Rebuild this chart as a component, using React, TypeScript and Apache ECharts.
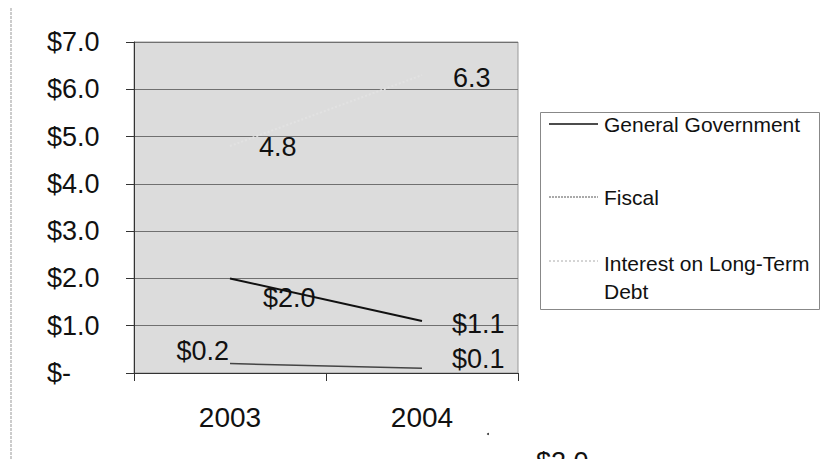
import React, { useEffect, useRef } from "react";
import * as echarts from "echarts";

const categories = ["2003", "2004"];
const generalGovernment = [2.0, 1.1];
const fiscal = [0.2, 0.1];
const interestLongTerm = [4.8, 6.3];
const yTicks = [0, 1, 2, 3, 4, 5, 6, 7];
const legendNames = ["General Government", "Fiscal", "Interest on Long-Term\nDebt"];
const strayLabel = "$2.0";

const FONT = "'Liberation Sans', Arial, sans-serif";

function fmtDollar(v: number) {
  return v === 0 ? "$-" : "$" + v.toFixed(1);
}

export default function App() {
  const ref = useRef<HTMLDivElement>(null);
  useEffect(() => {
    if (!ref.current) return;
    const chart = echarts.init(ref.current, undefined, { renderer: "svg" });

    const mkLabel = (dx: number, dy: number, align: string, text: string) => ({
      show: true,
      position: [dx, dy],
      align,
      verticalAlign: "middle",
      fontSize: 27,
      fontFamily: FONT,
      color: "#111",
      formatter: () => text,
    });

    const ggLabels = [mkLabel(33, 20, "left", "$" + generalGovernment[0].toFixed(1)), mkLabel(30, 3, "left", "$" + generalGovernment[1].toFixed(1))];
    const fiscalLabels = [mkLabel(-1, -12, "right", "$" + fiscal[0].toFixed(1)), mkLabel(30, -9, "left", "$" + fiscal[1].toFixed(1))];
    const intLabels = [mkLabel(29, 1, "left", interestLongTerm[0].toFixed(1)), mkLabel(31, 3, "left", interestLongTerm[1].toFixed(1))];

    const buildData = (vals: number[], labels: any[]) =>
      vals.map((v, i) => ({ value: v, label: labels[i] }));

    const baseSeries = {
      type: "line",
      symbol: "circle",
      symbolSize: 0.1,
      itemStyle: { color: "rgba(0,0,0,0)" },
      emphasis: { disabled: true },
      z: 3,
    };

    const lx1 = 549, lx2 = 598, tx = 604;
    const legendY = [124, 197, 261];

    chart.setOption({
      animation: false,
      grid: {
        left: 134,
        right: 305,
        top: 42,
        bottom: 86,
        show: true,
        backgroundColor: "#dcdcdc",
        borderColor: "#999",
        borderWidth: 1,
      },
      xAxis: {
        type: "category",
        data: categories,
        boundaryGap: true,
        axisLine: { lineStyle: { color: "#333", width: 1 } },
        axisTick: { show: true, length: 8, lineStyle: { color: "#333" } },
        axisLabel: { fontSize: 28, fontFamily: FONT, color: "#111", margin: 30 },
        splitLine: { show: false },
      },
      yAxis: {
        type: "value",
        min: yTicks[0],
        max: yTicks[yTicks.length - 1],
        interval: 1,
        axisLine: { show: true, lineStyle: { color: "#333", width: 1 } },
        axisTick: { show: true, length: 8, lineStyle: { color: "#333" } },
        axisLabel: {
          fontSize: 27,
          fontFamily: FONT,
          color: "#111",
          align: "left",
          margin: 87,
          formatter: (v: number) => fmtDollar(v),
        },
        splitLine: { show: true, lineStyle: { color: "#707070", width: 1 } },
      },
      series: [
        {
          ...baseSeries,
          name: "General Government",
          data: buildData(generalGovernment, ggLabels),
          lineStyle: { color: "#111", width: 2 },
        },
        {
          ...baseSeries,
          name: "Fiscal",
          data: buildData(fiscal, fiscalLabels),
          lineStyle: { color: "#444", width: 1.5 },
        },
        {
          ...baseSeries,
          name: "Interest on Long-Term Debt",
          data: buildData(interestLongTerm, intLabels),
          lineStyle: { color: "#e2e2e2", width: 2, type: "dotted" },
        },
      ],
      graphic: [
        { type: "line", shape: { x1: 11, y1: 8, x2: 11, y2: 459 }, style: { stroke: "#999", lineWidth: 1, lineDash: [3, 1] } },
        { type: "rect", shape: { x: 540.5, y: 112.5, width: 279, height: 197 }, style: { fill: "#fff", stroke: "#888", lineWidth: 1 } },
        { type: "line", shape: { x1: lx1, y1: legendY[0], x2: lx2, y2: legendY[0] }, style: { stroke: "#111", lineWidth: 1.5 } },
        { type: "line", shape: { x1: lx1, y1: legendY[1], x2: lx2, y2: legendY[1] }, style: { stroke: "#555", lineWidth: 1, lineDash: [2, 1] } },
        { type: "line", shape: { x1: lx1, y1: legendY[2], x2: lx2, y2: legendY[2] }, style: { stroke: "#aaa", lineWidth: 1, lineDash: [2, 2] } },
        { type: "text", x: tx, y: legendY[0], style: { text: legendNames[0], fontSize: 21, fontFamily: FONT, fill: "#111", verticalAlign: "middle" } },
        { type: "text", x: tx, y: legendY[1], style: { text: legendNames[1], fontSize: 21, fontFamily: FONT, fill: "#111", verticalAlign: "middle" } },
        { type: "text", x: tx, y: legendY[2] - 12, style: { text: legendNames[2], fontSize: 21, fontFamily: FONT, fill: "#111", verticalAlign: "top", lineHeight: 28 } },
        { type: "text", x: 536, y: 448, style: { text: strayLabel, fontSize: 27, fontFamily: FONT, fill: "#111", verticalAlign: "top" } },
        { type: "circle", shape: { cx: 488, cy: 434, r: 1 }, style: { fill: "#333" } },
      ],
    });
    return () => chart.dispose();
  }, []);
  return (
    <div
      ref={ref}
      style={{ position: "fixed", left: 0, top: 0, width: 823, height: 459, background: "#fff" }}
    />
  );
}
